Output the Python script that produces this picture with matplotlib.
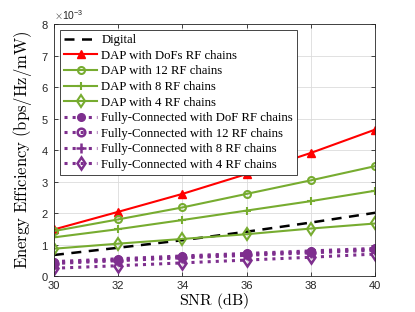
import matplotlib
matplotlib.use('Agg')
import numpy as np
import matplotlib.pyplot as plt
from matplotlib.ticker import ScalarFormatter

snr = [30, 32, 34, 36, 38, 40]
digital = [0.67, 0.90, 1.14, 1.41, 1.70, 2.01]
dap_dof = [1.48, 2.04, 2.61, 3.24, 3.91, 4.65]
dap_12 = [1.43, 1.80, 2.18, 2.61, 3.04, 3.49]
dap_8 = [1.23, 1.49, 1.78, 2.08, 2.38, 2.71]
dap_4 = [0.87, 1.03, 1.18, 1.33, 1.51, 1.67]
fc_dof = [0.46, 0.55, 0.64, 0.72, 0.80, 0.88]
fc_12 = [0.43, 0.52, 0.61, 0.69, 0.77, 0.85]
fc_8 = [0.40, 0.49, 0.58, 0.66, 0.74, 0.82]
fc_4 = [0.25, 0.33, 0.42, 0.51, 0.60, 0.70]

red = '#ff0000'
green = '#77ac30'
purple = '#7e2f8e'

plt.rcParams['font.family'] = 'serif'
plt.rcParams['font.serif'] = ['Liberation Serif']
plt.rcParams['mathtext.fontset'] = 'cm'

fig = plt.figure(figsize=(4.15, 3.12), dpi=100)
ax = fig.add_axes([0.130, 0.115, 0.774, 0.808])

s = 1e-3
ax.plot(snr, np.array(digital) * s, 'k--', lw=1.8, dashes=(4, 3), label='Digital')
ax.plot(snr, np.array(dap_dof) * s, '-^', color=red, lw=1.5, ms=6, label='DAP with DoFs RF chains')
ax.plot(snr, np.array(dap_12) * s, '-o', color=green, mfc='none', mew=1.5, lw=1.5, ms=5, label='DAP with 12 RF chains')
ax.plot(snr, np.array(dap_8) * s, '-+', color=green, mew=1.5, lw=1.5, ms=6, label='DAP with 8 RF chains')
ax.plot(snr, np.array(dap_4) * s, '-d', color=green, mfc='none', mew=1.5, lw=1.5, ms=6, label='DAP with 4 RF chains')
ax.plot(snr, np.array(fc_dof) * s, ':o', color=purple, lw=2.2, ms=5.5, label='Fully-Connected with DoF RF chains')
ax.plot(snr, np.array(fc_12) * s, ':o', color=purple, mfc='none', mew=1.8, lw=2.2, ms=5.5, label='Fully-Connected with 12 RF chains')
ax.plot(snr, np.array(fc_8) * s, ':+', color=purple, mew=1.8, lw=2.2, ms=6.5, label='Fully-Connected with 8 RF chains')
ax.plot(snr, np.array(fc_4) * s, ':d', color=purple, mfc='none', mew=1.8, lw=2.2, ms=6.5, label='Fully-Connected with 4 RF chains')

ax.set_xlim(30, 40)
ax.set_ylim(0, 8e-3)
ax.set_xticks([30, 32, 34, 36, 38, 40])
ax.set_yticks(np.arange(0, 9) * 1e-3)
fmt = ScalarFormatter(useMathText=True)
fmt.set_powerlimits((-3, -3))
ax.yaxis.set_major_formatter(fmt)
ax.yaxis.get_offset_text().set_fontsize(7.5)
ax.yaxis.get_offset_text().set_family('Liberation Sans')
for lab in ax.get_xticklabels() + ax.get_yticklabels():
    lab.set_family('Liberation Sans')
    lab.set_fontsize(8)
    lab.set_color('#333333')
ax.tick_params(direction='in', length=3, width=0.6, colors='#262626', top=True, right=True)
ax.grid(True, color='#dcdcdc', lw=0.6)
ax.set_axisbelow(True)
for sp in ax.spines.values():
    sp.set_linewidth(0.6)
    sp.set_color('#262626')

ax.set_xlabel(r'$\mathrm{SNR\ (dB)}$', fontsize=11.5, labelpad=0)
ax.set_ylabel(r'$\mathrm{Energy\ Efficiency\ (bps/Hz/mW)}$', fontsize=12, labelpad=5)

leg = ax.legend(loc='upper left', fontsize=9.2, handlelength=2.6, handletextpad=0.3,
                labelspacing=0.28, borderpad=0.35, fancybox=False, edgecolor='#262626',
                framealpha=1, borderaxespad=0.45)
leg.get_frame().set_linewidth(0.6)

fig.savefig('out.png', dpi=100)
